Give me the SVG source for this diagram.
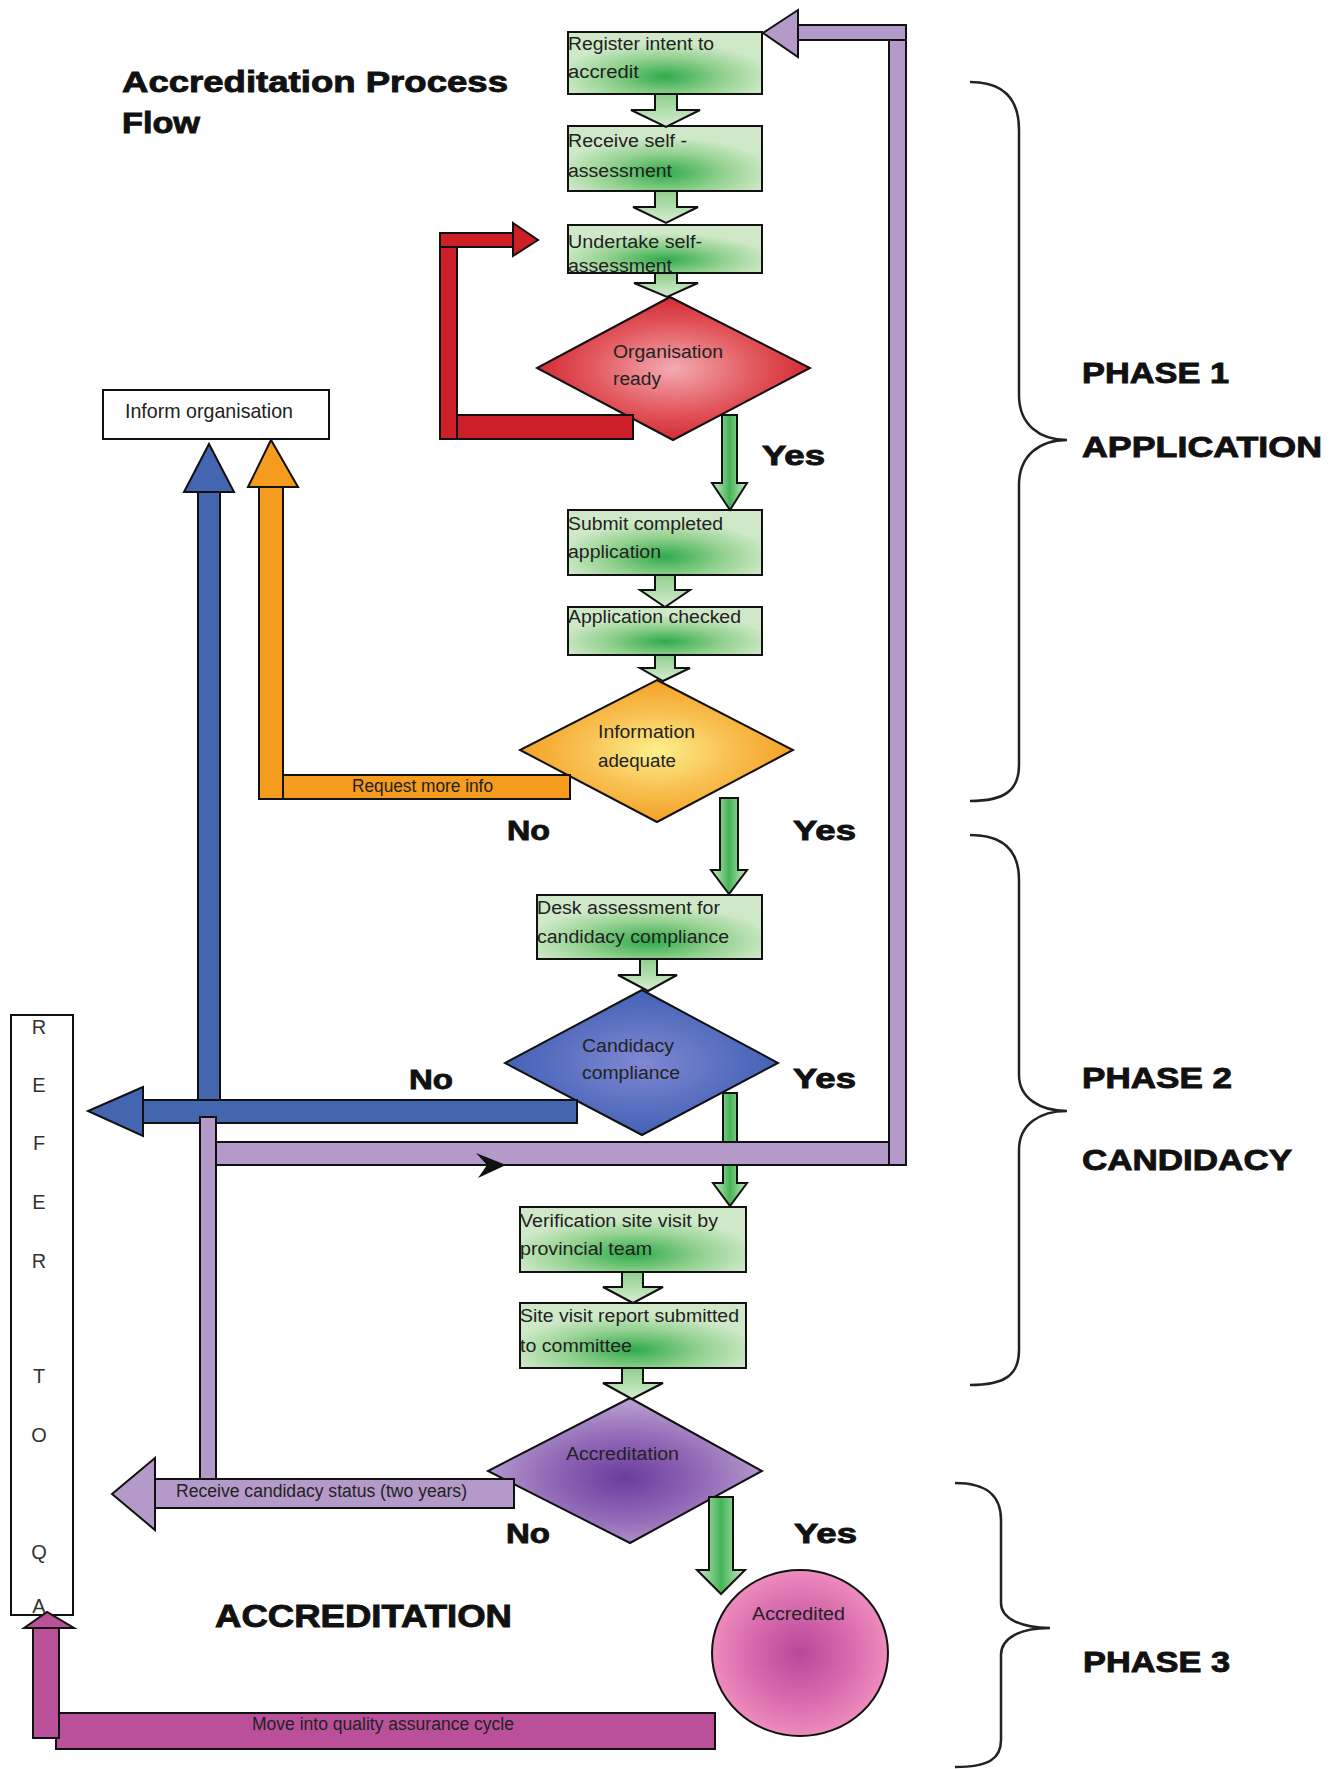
<svg xmlns="http://www.w3.org/2000/svg" width="1341" height="1769" viewBox="0 0 1341 1769">
<style>
.bx{stroke:#111;stroke-width:2}
.cn{stroke:#111;stroke-width:2}
.t{font-family:"Liberation Sans Narrow","Liberation Sans",Arial,sans-serif;font-size:18px;fill:#222}
.ti{font-family:"Liberation Sans Narrow","Liberation Sans",Arial,sans-serif;font-size:21px;fill:#222}
.h{font-family:"Liberation Sans",Arial,sans-serif;font-weight:bold;fill:#111;stroke:#111;stroke-width:0.9}
.ref{font-family:"Liberation Sans",Arial,sans-serif;font-size:20px;fill:#333;text-anchor:middle}
.br{fill:none;stroke:#222;stroke-width:2.5}
</style>
<defs>
<radialGradient id="gBox" cx="0.5" cy="0.72" r="0.55">
<stop offset="0" stop-color="#2fab4b"/><stop offset="0.55" stop-color="#93d190"/><stop offset="1" stop-color="#cfe9c8"/>
</radialGradient>
<linearGradient id="gArr" x1="0" y1="0" x2="0" y2="1">
<stop offset="0" stop-color="#8fcf8c"/><stop offset="1" stop-color="#d6edd0"/>
</linearGradient>
<linearGradient id="gYes" x1="0" y1="0" x2="1" y2="0">
<stop offset="0" stop-color="#cfe9c8"/><stop offset="0.5" stop-color="#45b457"/><stop offset="1" stop-color="#cfe9c8"/>
</linearGradient>
<radialGradient id="gRed" cx="0.5" cy="0.5" r="0.55">
<stop offset="0" stop-color="#f4aab2"/><stop offset="0.55" stop-color="#e2585e"/><stop offset="1" stop-color="#d01f28"/>
</radialGradient>
<radialGradient id="gOr" cx="0.5" cy="0.5" r="0.55">
<stop offset="0" stop-color="#fdf08c"/><stop offset="0.5" stop-color="#f8c050"/><stop offset="1" stop-color="#f39a1c"/>
</radialGradient>
<radialGradient id="gBl" cx="0.5" cy="0.5" r="0.55">
<stop offset="0" stop-color="#8088d2"/><stop offset="1" stop-color="#3d5db3"/>
</radialGradient>
<radialGradient id="gPu" cx="0.5" cy="0.55" r="0.55">
<stop offset="0" stop-color="#6a3c9e"/><stop offset="0.5" stop-color="#9068b6"/><stop offset="1" stop-color="#bba2d2"/>
</radialGradient>
<radialGradient id="gPk" cx="0.5" cy="0.5" r="0.55">
<stop offset="0" stop-color="#b8489a"/><stop offset="0.6" stop-color="#dc70b0"/><stop offset="1" stop-color="#f294c2"/>
</radialGradient>
</defs>
<rect width="1341" height="1769" fill="#fff"/>

<g id="title">
<text class="h" x="122" y="92" font-size="30" textLength="386" lengthAdjust="spacingAndGlyphs">Accreditation Process</text>
<text class="h" x="122" y="133" font-size="30" textLength="78" lengthAdjust="spacingAndGlyphs">Flow</text>
</g>

<g id="n-register"><rect class="bx" x="568" y="32" width="194" height="62" fill="url(#gBox)"/>
<text class="t" x="568" y="50" textLength="146" lengthAdjust="spacingAndGlyphs">Register intent to</text>
<text class="t" x="568" y="78" textLength="71" lengthAdjust="spacingAndGlyphs">accredit</text></g>
<g id="n-receive"><rect class="bx" x="568" y="126" width="194" height="65" fill="url(#gBox)"/>
<text class="t" x="568" y="147" textLength="119" lengthAdjust="spacingAndGlyphs">Receive self -</text>
<text class="t" x="568" y="177" textLength="104" lengthAdjust="spacingAndGlyphs">assessment</text></g>
<g id="n-undertake"><rect class="bx" x="568" y="225" width="194" height="48" fill="url(#gBox)"/>
<text class="t" x="568" y="248" textLength="134" lengthAdjust="spacingAndGlyphs">Undertake self-</text>
<text class="t" x="568" y="272" textLength="104" lengthAdjust="spacingAndGlyphs">assessment</text></g>
<g id="n-ready"><polygon class="bx" points="670,297 810,368 673,440 537,368" fill="url(#gRed)"/>
<text class="t" x="613" y="358" fill="#2a2a4a" textLength="110" lengthAdjust="spacingAndGlyphs">Organisation</text>
<text class="t" x="613" y="385" fill="#2a2a4a" textLength="48" lengthAdjust="spacingAndGlyphs">ready</text></g>
<g id="n-inform"><rect class="bx" x="103" y="390" width="226" height="49" fill="#fff"/>
<text class="ti" x="125" y="418" textLength="168" lengthAdjust="spacingAndGlyphs">Inform organisation</text></g>
<g id="n-submit"><rect class="bx" x="568" y="510" width="194" height="65" fill="url(#gBox)"/>
<text class="t" x="568" y="530" textLength="155" lengthAdjust="spacingAndGlyphs">Submit completed</text>
<text class="t" x="568" y="558" textLength="93" lengthAdjust="spacingAndGlyphs">application</text></g>
<g id="n-checked"><rect class="bx" x="568" y="607" width="194" height="48" fill="url(#gBox)"/>
<text class="t" x="568" y="623" textLength="173" lengthAdjust="spacingAndGlyphs">Application checked</text></g>
<g id="n-info"><polygon class="bx" points="657,680 793,750 657,822 520,750" fill="url(#gOr)"/>
<text class="t" x="598" y="738" textLength="97" lengthAdjust="spacingAndGlyphs">Information</text>
<text class="t" x="598" y="767" textLength="78" lengthAdjust="spacingAndGlyphs">adequate</text></g>
<g id="n-desk"><rect class="bx" x="537" y="895" width="225" height="64" fill="url(#gBox)"/>
<text class="t" x="537" y="914" textLength="183" lengthAdjust="spacingAndGlyphs">Desk assessment for</text>
<text class="t" x="537" y="943" textLength="192" lengthAdjust="spacingAndGlyphs">candidacy compliance</text></g>
<g id="n-candidacy"><polygon class="bx" points="642,990 778,1063 642,1135 505,1063" fill="url(#gBl)"/>
<text class="t" x="582" y="1052" fill="#2a2a55" textLength="92" lengthAdjust="spacingAndGlyphs">Candidacy</text>
<text class="t" x="582" y="1079" fill="#2a2a55" textLength="98" lengthAdjust="spacingAndGlyphs">compliance</text></g>
<g id="n-verification"><rect class="bx" x="520" y="1207" width="226" height="65" fill="url(#gBox)"/>
<text class="t" x="520" y="1227" textLength="198" lengthAdjust="spacingAndGlyphs">Verification site visit by</text>
<text class="t" x="520" y="1255" textLength="132" lengthAdjust="spacingAndGlyphs">provincial team</text></g>
<g id="n-sitereport"><rect class="bx" x="520" y="1303" width="226" height="65" fill="url(#gBox)"/>
<text class="t" x="520" y="1322" textLength="219" lengthAdjust="spacingAndGlyphs">Site visit report submitted</text>
<text class="t" x="520" y="1352" textLength="112" lengthAdjust="spacingAndGlyphs">to committee</text></g>
<g id="n-accreditation"><polygon class="bx" points="630,1398 762,1471 630,1543 488,1471" fill="url(#gPu)"/>
<text class="t" x="566" y="1460" fill="#2a1a50" textLength="113" lengthAdjust="spacingAndGlyphs">Accreditation</text></g>
<g id="n-accredited"><ellipse class="bx" cx="800" cy="1653" rx="88" ry="83" fill="url(#gPk)"/>
<text class="t" x="752" y="1620" fill="#3a1a40" textLength="93" lengthAdjust="spacingAndGlyphs">Accredited</text></g>
<g id="n-refer"><rect class="bx" x="11" y="1015" width="62" height="600" fill="#fff"/>
<text class="ref" x="39" y="1034">R</text><text class="ref" x="39" y="1092">E</text><text class="ref" x="39" y="1150">F</text>
<text class="ref" x="39" y="1209">E</text><text class="ref" x="39" y="1268">R</text><text class="ref" x="39" y="1383">T</text>
<text class="ref" x="39" y="1442">O</text><text class="ref" x="39" y="1559">Q</text><text class="ref" x="39" y="1613">A</text></g>

<g id="connectors">
<polygon class="cn" fill="url(#gArr)" points="655,94 677,94 677,110 700,110 666,127 631,110 655,110"/>
<polygon class="cn" fill="url(#gArr)" points="655,191 677,191 677,207 698,207 666,223 633,207 655,207"/>
<polygon class="cn" fill="url(#gArr)" points="655,273 677,273 677,283 698,283 667,297 634,283 655,283"/>
<polygon class="cn" fill="url(#gArr)" points="655,575 675,575 675,590 690,590 665,607 640,590 655,590"/>
<polygon class="cn" fill="url(#gArr)" points="655,655 675,655 675,668 690,668 663,681 640,668 655,668"/>
<polygon class="cn" fill="url(#gArr)" points="640,959 657,959 657,975 677,975 648,991 618,975 640,975"/>
<polygon class="cn" fill="url(#gArr)" points="622,1272 643,1272 643,1287 663,1287 633,1303 603,1287 622,1287"/>
<polygon class="cn" fill="url(#gArr)" points="622,1368 643,1368 643,1383 663,1383 632,1399 603,1383 622,1383"/>
<polygon class="cn" fill="url(#gYes)" points="722,415 737,415 737,483 747,483 730,510 712,483 722,483"/>
<polygon class="cn" fill="url(#gYes)" points="720,798 738,798 738,870 747,870 729,894 711,870 720,870"/>
<polygon class="cn" fill="url(#gYes)" points="723,1093 737,1093 737,1183 747,1183 730,1206 713,1183 723,1183"/>
<polygon class="cn" fill="url(#gYes)" points="709,1497 733,1497 733,1570 745,1570 721,1594 697,1570 709,1570"/>
<g fill="#cc1f27">
<rect class="cn" x="440" y="233" width="73" height="14"/>
<polygon class="cn" points="513,223 538,240 513,256"/>
<rect class="cn" x="440" y="247" width="17" height="192"/>
<rect class="cn" x="457" y="415" width="176" height="24"/>
</g>
<g fill="#f59b1d">
<rect class="cn" x="259" y="487" width="24" height="312"/>
<polygon class="cn" points="248,487 271,440 298,487"/>
<rect class="cn" x="283" y="775" width="287" height="24"/>
<text class="t" x="352" y="792" fill="#5a3a10" textLength="141" lengthAdjust="spacingAndGlyphs">Request more info</text>
</g>
<g fill="#4466b0">
<rect class="cn" x="143" y="1100" width="434" height="23"/>
<polygon class="cn" points="143,1087 88,1111 143,1136"/>
<rect class="cn" x="198" y="492" width="22" height="608"/>
<polygon class="cn" points="184,492 209,444 234,492"/>
</g>
<g fill="#b49ac8">
<rect class="cn" x="200" y="1117" width="16" height="362"/>
<rect class="cn" x="216" y="1142" width="690" height="23"/>
<rect class="cn" x="889" y="25" width="17" height="1140"/>
<rect class="cn" x="798" y="25" width="108" height="15"/>
<polygon class="cn" points="798,10 763,33 798,57"/>
<rect class="cn" x="155" y="1479" width="359" height="29"/>
<polygon class="cn" points="155,1458 112,1494 155,1530"/>
<text class="t" x="176" y="1497" fill="#3a2060" textLength="291" lengthAdjust="spacingAndGlyphs">Receive candidacy status (two years)</text>
</g>
<polygon fill="#111" points="476,1153 506,1165 478,1178 487,1165"/>
<g fill="#bb509a">
<rect class="cn" x="56" y="1713" width="659" height="36"/>
<rect class="cn" x="33" y="1628" width="26" height="110"/>
<polygon class="cn" points="24,1628 47,1612 74,1628"/>
<text class="t" x="252" y="1730" fill="#3a1070" textLength="262" lengthAdjust="spacingAndGlyphs">Move into quality assurance cycle</text>
</g>
</g>

<g id="labels">
<text class="h" x="762" y="465" font-size="28" textLength="63" lengthAdjust="spacingAndGlyphs">Yes</text>
<text class="h" x="507" y="840" font-size="28" textLength="43" lengthAdjust="spacingAndGlyphs">No</text>
<text class="h" x="793" y="840" font-size="28" textLength="63" lengthAdjust="spacingAndGlyphs">Yes</text>
<text class="h" x="409" y="1089" font-size="28" textLength="44" lengthAdjust="spacingAndGlyphs">No</text>
<text class="h" x="793" y="1088" font-size="28" textLength="63" lengthAdjust="spacingAndGlyphs">Yes</text>
<text class="h" x="506" y="1543" font-size="28" textLength="44" lengthAdjust="spacingAndGlyphs">No</text>
<text class="h" x="794" y="1543" font-size="28" textLength="63" lengthAdjust="spacingAndGlyphs">Yes</text>
<text class="h" x="215" y="1627" font-size="32" textLength="297" lengthAdjust="spacingAndGlyphs">ACCREDITATION</text>
<text class="h" x="1082" y="383" font-size="30" textLength="147" lengthAdjust="spacingAndGlyphs">PHASE 1</text>
<text class="h" x="1082" y="457" font-size="30" textLength="240" lengthAdjust="spacingAndGlyphs">APPLICATION</text>
<text class="h" x="1082" y="1088" font-size="30" textLength="150" lengthAdjust="spacingAndGlyphs">PHASE 2</text>
<text class="h" x="1082" y="1170" font-size="30" textLength="210" lengthAdjust="spacingAndGlyphs">CANDIDACY</text>
<text class="h" x="1083" y="1672" font-size="30" textLength="147" lengthAdjust="spacingAndGlyphs">PHASE 3</text>
</g>

<g id="braces">
<path class="br" d="M970,82 C1005,82 1019,100 1019,130 L1019,395 C1019,425 1040,440 1067,440 C1040,440 1019,455 1019,485 L1019,765 C1019,790 1005,801 970,801"/>
<path class="br" d="M970,835 C1005,835 1019,852 1019,880 L1019,1075 C1019,1098 1040,1111 1067,1111 C1040,1111 1019,1124 1019,1150 L1019,1350 C1019,1375 1005,1385 970,1385"/>
<path class="br" d="M955,1483 C990,1483 1001,1498 1001,1520 L1001,1603 C1001,1618 1020,1628 1050,1628 C1020,1628 1001,1638 1001,1655 L1001,1740 C1001,1758 990,1767 955,1767"/>
</g>
</svg>
